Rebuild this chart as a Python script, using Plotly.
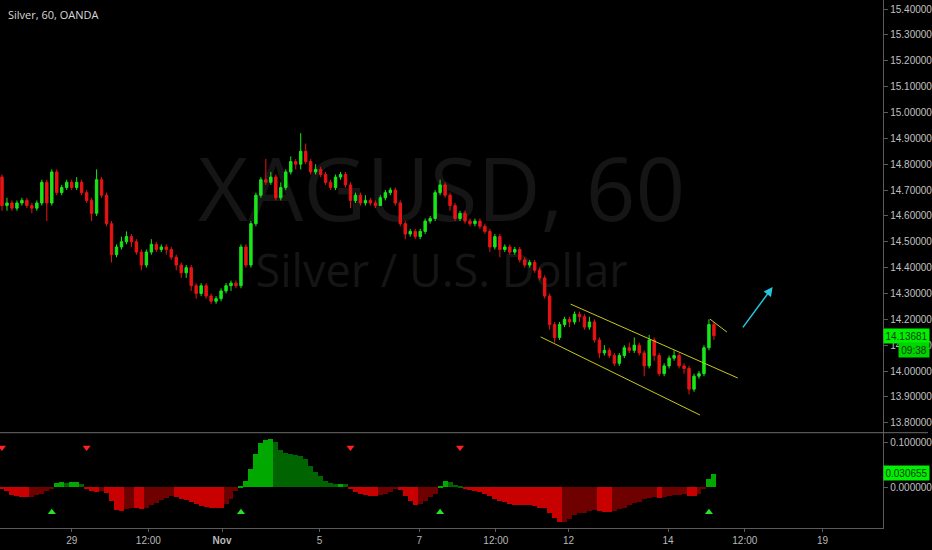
import plotly.graph_objects as go

# ---------------- data (hourly bars) ----------------
open_ = [14.75,14.64,14.65,14.63,14.65,14.66,14.64,14.63,14.65,14.73,
         14.65,14.77,14.69,14.71,14.73,14.71,14.73,14.69,14.66,14.61,
         14.74,14.68,14.57,14.45,14.48,14.50,14.52,14.50,14.46,14.41,
         14.46,14.49,14.47,14.48,14.47,14.44,14.41,14.38,14.40,14.33,
         14.30,14.33,14.29,14.27,14.28,14.31,14.33,14.34,14.33,14.48,
         14.41,14.57,14.68,14.74,14.73,14.75,14.67,14.71,14.77,14.81,
         14.80,14.85,14.81,14.77,14.78,14.76,14.73,14.71,14.75,14.76,
         14.72,14.66,14.68,14.65,14.66,14.65,14.64,14.67,14.69,14.70,
         14.65,14.57,14.53,14.54,14.52,14.54,14.58,14.59,14.69,14.72,
         14.68,14.64,14.59,14.61,14.58,14.57,14.58,14.56,14.54,14.48,
         14.52,14.47,14.48,14.46,14.47,14.43,14.41,14.42,14.39,14.36,
         14.29,14.18,14.13,14.18,14.20,14.19,14.22,14.21,14.17,14.19,
         14.12,14.07,14.08,14.06,14.03,14.06,14.09,14.08,14.10,14.07,
         14.02,14.12,14.06,13.99,14.02,14.05,14.06,14.02,14.01,13.93,
         13.98,13.99,14.09,14.18]
high = [14.76,14.67,14.66,14.66,14.67,14.67,14.65,14.66,14.74,14.74,
        14.78,14.78,14.72,14.74,14.74,14.75,14.74,14.70,14.67,14.78,
        14.75,14.69,14.58,14.49,14.52,14.54,14.53,14.51,14.47,14.47,
        14.51,14.50,14.49,14.49,14.48,14.45,14.42,14.41,14.41,14.34,
        14.34,14.34,14.30,14.29,14.32,14.34,14.35,14.35,14.49,14.49,
        14.58,14.69,14.75,14.82,14.77,14.76,14.73,14.78,14.83,14.82,
        14.92,14.88,14.82,14.80,14.79,14.77,14.74,14.76,14.77,14.77,
        14.73,14.69,14.69,14.68,14.67,14.66,14.68,14.70,14.71,14.71,
        14.66,14.58,14.55,14.55,14.55,14.59,14.60,14.70,14.74,14.73,
        14.69,14.65,14.62,14.62,14.59,14.59,14.59,14.57,14.55,14.53,
        14.53,14.49,14.49,14.48,14.48,14.44,14.43,14.43,14.40,14.37,
        14.30,14.19,14.19,14.21,14.21,14.23,14.23,14.22,14.21,14.20,
        14.13,14.10,14.09,14.07,14.07,14.10,14.11,14.13,14.11,14.08,
        14.14,14.13,14.07,14.03,14.06,14.08,14.07,14.03,14.02,13.99,
        14.00,14.10,14.20,14.19]
low = [14.62,14.62,14.62,14.62,14.64,14.63,14.61,14.62,14.64,14.58,
       14.64,14.68,14.68,14.70,14.70,14.70,14.68,14.65,14.58,14.60,
       14.67,14.56,14.42,14.44,14.47,14.49,14.48,14.45,14.39,14.40,
       14.45,14.46,14.46,14.45,14.43,14.39,14.36,14.36,14.31,14.28,
       14.29,14.28,14.26,14.26,14.27,14.30,14.31,14.32,14.32,14.40,
       14.40,14.56,14.67,14.72,14.72,14.66,14.66,14.70,14.76,14.78,
       14.78,14.80,14.76,14.76,14.75,14.72,14.70,14.70,14.74,14.71,
       14.63,14.65,14.64,14.64,14.64,14.63,14.64,14.66,14.68,14.64,
       14.56,14.51,14.52,14.51,14.51,14.53,14.57,14.58,14.68,14.67,
       14.62,14.58,14.58,14.57,14.56,14.56,14.55,14.53,14.46,14.47,
       14.44,14.46,14.45,14.45,14.42,14.40,14.40,14.38,14.35,14.28,
       14.16,14.11,14.12,14.17,14.17,14.18,14.19,14.16,14.16,14.11,
       14.05,14.06,14.05,14.02,14.02,14.05,14.07,14.07,14.06,13.98,
       14.01,14.04,13.98,13.98,14.01,14.04,14.01,13.99,13.91,13.92,
       13.97,13.98,14.08,14.12]
close = [14.64,14.65,14.63,14.65,14.66,14.64,14.63,14.65,14.73,14.65,
         14.77,14.69,14.71,14.73,14.71,14.73,14.69,14.66,14.61,14.74,
         14.68,14.57,14.45,14.48,14.50,14.52,14.50,14.46,14.41,14.46,
         14.49,14.47,14.48,14.47,14.44,14.41,14.38,14.40,14.33,14.30,
         14.33,14.29,14.27,14.28,14.31,14.33,14.34,14.33,14.48,14.41,
         14.57,14.68,14.74,14.73,14.75,14.67,14.71,14.77,14.81,14.80,
         14.85,14.81,14.77,14.78,14.76,14.73,14.71,14.75,14.76,14.72,
         14.66,14.68,14.65,14.66,14.65,14.64,14.67,14.69,14.70,14.65,
         14.57,14.53,14.54,14.52,14.54,14.58,14.59,14.69,14.72,14.68,
         14.64,14.59,14.61,14.58,14.57,14.58,14.56,14.54,14.48,14.52,
         14.47,14.48,14.46,14.47,14.43,14.41,14.42,14.39,14.36,14.29,
         14.18,14.13,14.18,14.20,14.19,14.22,14.21,14.17,14.19,14.12,
         14.07,14.08,14.06,14.03,14.06,14.09,14.08,14.10,14.07,14.02,
         14.12,14.06,13.99,14.02,14.05,14.06,14.02,14.01,13.93,13.98,
         13.99,14.09,14.18,14.13681]

# oscillator (lower pane)
osc = [-0.003,-0.008,-0.017,-0.020,-0.022,-0.022,-0.021,-0.018,-0.014,-0.008,
       -0.002,0.010,0.011,0.010,0.011,0.011,0.008,-0.002,-0.008,-0.011,
       -0.008,-0.012,-0.030,-0.050,-0.052,-0.049,-0.045,-0.046,-0.048,-0.045,
       -0.040,-0.034,-0.028,-0.024,-0.019,-0.022,-0.025,-0.028,-0.032,-0.037,
       -0.041,-0.044,-0.045,-0.046,-0.046,-0.038,-0.025,-0.008,0.004,0.015,
       0.040,0.075,0.098,0.106,0.107,0.100,0.083,0.077,0.073,0.071,
       0.069,0.062,0.048,0.035,0.025,0.014,0.010,0.008,0.008,0.007,
       -0.003,-0.010,-0.014,-0.018,-0.019,-0.019,-0.018,-0.014,-0.010,-0.004,
       -0.006,-0.019,-0.030,-0.040,-0.036,-0.030,-0.022,-0.014,0.004,0.015,
       0.012,0.005,0.001,-0.004,-0.006,-0.008,-0.011,-0.015,-0.020,-0.026,
       -0.030,-0.033,-0.036,-0.039,-0.040,-0.040,-0.040,-0.042,-0.045,-0.047,
       -0.058,-0.068,-0.078,-0.076,-0.070,-0.062,-0.058,-0.056,-0.053,-0.050,
       -0.052,-0.055,-0.055,-0.052,-0.049,-0.045,-0.040,-0.035,-0.032,-0.026,
       -0.023,-0.021,-0.023,-0.022,-0.019,-0.018,-0.016,-0.015,-0.020,-0.020,
       -0.015,-0.004,0.018,0.030655]

sell_bars = [0, 17, 70, 92]
buy_bars = [10, 48, 88, 142]

time_tick_pos = [14.0, 29.4, 44.2, 63.8, 83.8, 99.2, 113.8, 133.8, 149.2, 164.8]
time_tick_text = ["29", "12:00", "<b>Nov</b>", "5", "7", "12:00", "12", "14", "12:00", "19"]
price_ticks = [13.8, 13.9, 14.0, 14.1, 14.2, 14.3, 14.4, 14.5, 14.6, 14.7,
               14.8, 14.9, 15.0, 15.1, 15.2, 15.3, 15.4]
osc_ticks = [0.0, 0.1]

# drawings (bar index, price)
channel_upper = [(114.2, 14.259), (147.8, 13.973)]
channel_lower = [(108.2, 14.132), (140.2, 13.830)]
small_line = [(142.2, 14.201), (145.6, 14.151)]
arrow = [(148.6, 14.163), (154.8, 14.325)]

last_price = close[-1]
last_osc = osc[-1]

# ---------------- figure ----------------
W, H = 932, 550
X_RIGHT = 887 / W
SPLIT = 1 - 432.7 / H
BOTTOM = 1 - 528 / H

GREEN = "#19e619"
RED = "#e81414"
bars = list(range(len(close)))

osc_colors = []
for i, v in enumerate(osc):
    prev = osc[i - 1] if i > 0 else 0
    if v >= 0:
        osc_colors.append("#00a800" if v >= prev else "#006400")
    else:
        osc_colors.append("#c80000" if v <= prev else "#6e0000")

fig = go.Figure()
fig.add_trace(go.Candlestick(
    x=bars, open=open_, high=high, low=low, close=close,
    increasing=dict(line=dict(color=GREEN, width=1), fillcolor=GREEN),
    decreasing=dict(line=dict(color=RED, width=1), fillcolor=RED),
    whiskerwidth=0, xaxis="x", yaxis="y", showlegend=False, hoverinfo="skip"))

fig.add_trace(go.Bar(
    x=bars, y=osc, marker=dict(color=osc_colors, line=dict(width=0)),
    width=1.0, xaxis="x", yaxis="y2", showlegend=False, hoverinfo="skip"))

fig.add_trace(go.Scatter(
    x=sell_bars, y=[0.088] * len(sell_bars), mode="markers",
    marker=dict(symbol="triangle-down", size=7, color="#ff2020"),
    xaxis="x", yaxis="y2", showlegend=False, hoverinfo="skip"))
fig.add_trace(go.Scatter(
    x=buy_bars, y=[-0.056] * len(buy_bars), mode="markers",
    marker=dict(symbol="triangle-up", size=7, color="#22e622"),
    xaxis="x", yaxis="y2", showlegend=False, hoverinfo="skip"))

shapes = []
for seg in (channel_upper, channel_lower, small_line):
    shapes.append(dict(type="line", xref="x", yref="y",
                       x0=seg[0][0], y0=seg[0][1], x1=seg[1][0], y1=seg[1][1],
                       line=dict(color="#c8c81e", width=1)))
# panel separator
shapes.append(dict(type="line", xref="paper", yref="paper", x0=0, x1=1,
                   y0=SPLIT, y1=SPLIT, line=dict(color="#6a6a6a", width=1)))
# watermark
shapes.append(dict(type="rect", xref="paper", yref="paper",
                   x0=0, x1=X_RIGHT, y0=1 - 232 / H, y1=1 - 154 / H,
                   line=dict(width=0), fillcolor="rgba(0,0,0,0)", layer="below",
                   label=dict(text="XAGUSD, 60", textposition="middle center",
                              font=dict(size=87, color="#151515", family="Open Sans"))))
shapes.append(dict(type="rect", xref="paper", yref="paper",
                   x0=0, x1=X_RIGHT, y0=1 - 296 / H, y1=1 - 248 / H,
                   line=dict(width=0), fillcolor="rgba(0,0,0,0)", layer="below",
                   label=dict(text="Silver / U.S. Dollar", textposition="middle center",
                              font=dict(size=45, color="#151515", family="Open Sans"))))

annotations = [
    dict(xref="paper", yref="paper", x=6 / W, y=1 - 14 / H, xanchor="left", yanchor="middle",
         text="Silver, 60, OANDA", showarrow=False,
         font=dict(family="Open Sans", size=11, color="#d8d8d8")),
    dict(xref="x", yref="y", x=arrow[1][0], y=arrow[1][1], ax=arrow[0][0], ay=arrow[0][1],
         axref="x", ayref="y", showarrow=True, arrowhead=2, arrowsize=1.2,
         arrowwidth=1.5, arrowcolor="#26c6e0", text=""),
    dict(xref="paper", yref="y", x=X_RIGHT, y=last_price, xanchor="left", yanchor="middle",
         text=f"{last_price:.5f}", showarrow=False, bgcolor="#00f000", width=43, height=12,
         borderpad=1, font=dict(family="Liberation Sans", size=10, color="#0b3a0b")),
    dict(xref="paper", yref="paper", x=902 / W, y=1 - 350 / H, xanchor="left", yanchor="middle",
         text="09:38", showarrow=False, bgcolor="#00d400", width=28, height=12,
         borderpad=1, font=dict(family="Liberation Sans", size=10, color="#0b3a0b")),
    dict(xref="paper", yref="y2", x=X_RIGHT, y=last_osc, xanchor="left", yanchor="middle",
         text=f"{last_osc:.6f}", showarrow=False, bgcolor="#00f000", width=43, height=12,
         borderpad=1, font=dict(family="Liberation Sans", size=10, color="#0b3a0b")),
]

axis_font = dict(family="Liberation Sans", size=10, color="#c0c0c0")

fig.update_layout(
    width=W, height=H,
    margin=dict(l=0, r=0, t=0, b=0),
    paper_bgcolor="#000000", plot_bgcolor="rgba(0,0,0,0)",
    hovermode=False, showlegend=False, bargap=0,
    shapes=shapes, annotations=annotations,
    xaxis=dict(domain=[0, X_RIGHT], range=[-0.4, 177], anchor="y2",
               tickvals=time_tick_pos, ticktext=time_tick_text,
               showgrid=False, zeroline=False, showline=True, linecolor="#5a5a5a",
               ticks="outside", ticklen=3, tickcolor="#5a5a5a",
               tickfont=dict(family="Liberation Sans", size=10, color="#b8b8b8"),
               rangeslider=dict(visible=False), fixedrange=True),
    yaxis=dict(domain=[SPLIT, 1], range=[13.7616, 15.435], side="right", anchor="x",
               tickvals=price_ticks, tickformat=".5f",
               showgrid=False, zeroline=False, showline=True, linecolor="#5a5a5a",
               ticks="outside", ticklen=4, tickcolor="#5a5a5a", tickfont=axis_font,
               fixedrange=True),
    yaxis2=dict(domain=[BOTTOM, SPLIT], range=[-0.0911, 0.1207], side="right", anchor="x",
                tickvals=osc_ticks, tickformat=".6f",
                showgrid=False, zeroline=False, showline=True, linecolor="#5a5a5a",
                ticks="outside", ticklen=4, tickcolor="#5a5a5a", tickfont=axis_font,
                fixedrange=True),
)

fig.write_html("out.html", config={"displayModeBar": False},
               post_script="document.body.style.margin='0';document.body.style.background='#000';")
